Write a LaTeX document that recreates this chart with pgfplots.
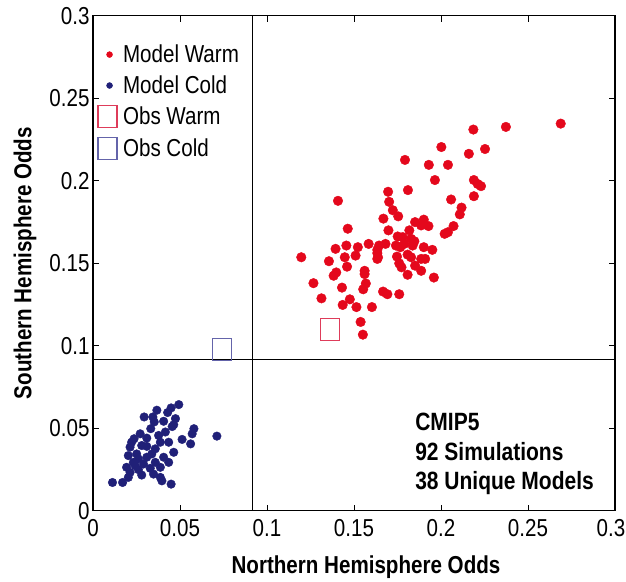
\documentclass[border=0pt]{standalone}
\usepackage{fontspec}
\setmainfont{Liberation Sans}[FakeStretch=0.84]
\usepackage{pgfplots}
\pgfplotsset{compat=1.18}

\definecolor{warm}{RGB}{228,8,28}
\definecolor{cold}{RGB}{32,32,120}
\definecolor{obswarm}{RGB}{222,60,90}
\definecolor{obscold}{RGB}{100,100,170}

\pgfplotsset{
  dotlegend/.style={legend image code/.code={
    \path[draw=none,fill=none] (0pt,0pt) -- (24.5pt,0pt);
    \draw[mark repeat=2,mark phase=2,##1,mark size=3pt]
    plot coordinates {(0pt,0pt)(12pt,0pt)(24pt,0pt)};}},
  boxlegend/.style={legend image code/.code={
    \path[draw=none,fill=none] (0pt,0pt) -- (24.5pt,0pt);
    \draw[mark repeat=2,mark phase=2,##1]
    plot coordinates {(0pt,0pt)(10pt,0pt)(24pt,0pt)};}},
}

\begin{document}
\begin{tikzpicture}
\useasboundingbox (-93pt,-70.3pt) rectangle (533pt,510.7pt);
\begin{axis}[scale only axis,width=522pt,height=495pt,
  at={(0,0)},anchor=south west,
  xmin=0,xmax=0.3,ymin=0,ymax=0.3,
  xtick={0,0.05,0.1,0.15,0.2,0.25,0.3},
  xticklabels={0,0.05,0.1,0.15,0.2,0.25,\hspace*{-8pt}0.3},
  ytick={0,0.05,0.1,0.15,0.2,0.25,0.3},
  yticklabels={0,0.05,0.1,0.15,0.2,0.25,0.3},
  tick align=inside,major tick length=6pt,
  tick style={black,line width=0.8pt},
  axis line style={line width=1.3pt},
  tick label style={font=\fontsize{24.5}{28}\selectfont},
  xticklabel style={yshift=-5pt},
  label style={font=\fontsize{24.5}{28}\selectfont\bfseries},
  xlabel={Northern Hemisphere Odds},
  ylabel={Southern Hemisphere Odds},
  xlabel style={yshift=-12pt,xshift=12pt},
  ylabel style={yshift=6pt},
  legend cell align=left,
  legend style={draw=none,fill=none,at={(axis cs:0.0025,0.2830)},
    anchor=north west,inner sep=0pt,row sep=9.7pt,
    font=\fontsize{24.5}{28}\selectfont,
    nodes={inner sep=1pt}},
  ]

\addplot[only marks,mark=*,mark size=4.8pt,color=warm,dotlegend]
coordinates {
(0.2688,0.2346)(0.2373,0.2326)(0.2186,0.2310)(0.2002,0.2204)(0.2253,0.2192)
(0.2160,0.2163)(0.1793,0.2126)(0.1930,0.2096)(0.2040,0.2096)(0.1965,0.2004)
(0.2189,0.2004)(0.2230,0.1967)(0.2211,0.1980)(0.2189,0.1906)(0.1810,0.1943)
(0.1696,0.1933)(0.1702,0.1872)(0.1408,0.1878)(0.2058,0.1886)(0.2118,0.1837)
(0.2108,0.1796)(0.1723,0.1821)(0.1754,0.1784)(0.1669,0.1770)(0.1851,0.1749)
(0.1901,0.1764)(0.1886,0.1729)(0.1928,0.1725)(0.2072,0.1725)(0.2040,0.1688)
(0.2021,0.1678)(0.1464,0.1709)(0.1698,0.1699)(0.1818,0.1699)(0.1751,0.1662)
(0.1780,0.1658)(0.1828,0.1648)(0.1847,0.1633)(0.1741,0.1607)(0.1789,0.1617)
(0.1837,0.1607)(0.1681,0.1617)(0.1644,0.1607)(0.1584,0.1617)(0.1456,0.1607)
(0.1522,0.1597)(0.1394,0.1587)(0.1634,0.1581)(0.1901,0.1597)(0.1950,0.1581)
(0.1509,0.1546)(0.1447,0.1536)(0.1638,0.1536)(0.1747,0.1540)(0.1808,0.1552)
(0.1828,0.1536)(0.1197,0.1536)(0.1356,0.1512)(0.1634,0.1526)(0.1886,0.1526)
(0.1909,0.1526)(0.1760,0.1499)(0.1460,0.1479)(0.1851,0.1485)(0.1773,0.1475)
(0.1561,0.1454)(0.1886,0.1454)(0.1398,0.1444)(0.1383,0.1424)(0.1561,0.1434)
(0.1808,0.1430)(0.1959,0.1413)(0.1267,0.1379)(0.1568,0.1377)(0.1431,0.1352)
(0.1553,0.1342)(0.1667,0.1328)(0.1692,0.1312)(0.1760,0.1312)(0.1313,0.1287)
(0.1476,0.1281)(0.1435,0.1247)(0.1514,0.1234)(0.1603,0.1234)(0.1538,0.1144)
(0.1551,0.1067)(0.1634,0.1561)(0.1766,0.1597)};
\addlegendentry{Model Warm}

\addplot[only marks,mark=*,mark size=4.3pt,color=cold,dotlegend]
coordinates {
(0.0493,0.0643)(0.0449,0.0623)(0.0367,0.0609)(0.0429,0.0595)(0.0294,0.0568)
(0.0352,0.0538)(0.0406,0.0542)(0.0474,0.0558)(0.0464,0.0521)(0.0332,0.0497)
(0.0580,0.0497)(0.0712,0.0452)(0.0570,0.0466)(0.0512,0.0432)(0.0271,0.0466)
(0.0236,0.0436)(0.0309,0.0440)(0.0387,0.0415)(0.0435,0.0415)(0.0561,0.0405)
(0.0213,0.0385)(0.0280,0.0395)(0.0358,0.0375)(0.0464,0.0354)(0.0203,0.0334)
(0.0251,0.0344)(0.0309,0.0324)(0.0406,0.0324)(0.0232,0.0293)(0.0290,0.0283)
(0.0358,0.0293)(0.0435,0.0293)(0.0193,0.0263)(0.0261,0.0249)(0.0329,0.0257)
(0.0387,0.0263)(0.0213,0.0232)(0.0280,0.0216)(0.0387,0.0202)(0.0396,0.0181)
(0.0112,0.0171)(0.0170,0.0171)(0.0203,0.0202)(0.0449,0.0161)(0.0222,0.0415)
(0.0261,0.0314)(0.0338,0.0344)(0.0377,0.0456)(0.0416,0.0477)(0.0309,0.0390)
(0.0242,0.0273)(0.0348,0.0222)(0.0455,0.0510)(0.0344,0.0568)};
\addlegendentry{Model Cold}

\addplot[only marks,mark=square,mark size=9.5pt,color=obswarm,
  mark options={line width=1.1pt,yscale=1.15},boxlegend]
coordinates {(0.1362,0.1098)};
\addlegendentry{Obs Warm}

\addplot[only marks,mark=square,mark size=9.5pt,color=obscold,
  mark options={line width=1.1pt,yscale=1.15},boxlegend]
coordinates {(0.0743,0.0979)};
\addlegendentry{Obs Cold}

% the two 50% odds lines
\addplot[black,line width=0.8pt,forget plot] coordinates {(0.0917,0)(0.0917,0.3)};
\addplot[black,line width=0.8pt,forget plot] coordinates {(0,0.0917)(0.3,0.0917)};

\node[anchor=north west,align=left,inner sep=0pt,
  font=\fontsize{25}{29.5}\selectfont\bfseries]
  at (axis cs:0.1851,0.0592) {CMIP5\\92 Simulations\\38 Unique Models};
\end{axis}
\end{tikzpicture}
\end{document}
